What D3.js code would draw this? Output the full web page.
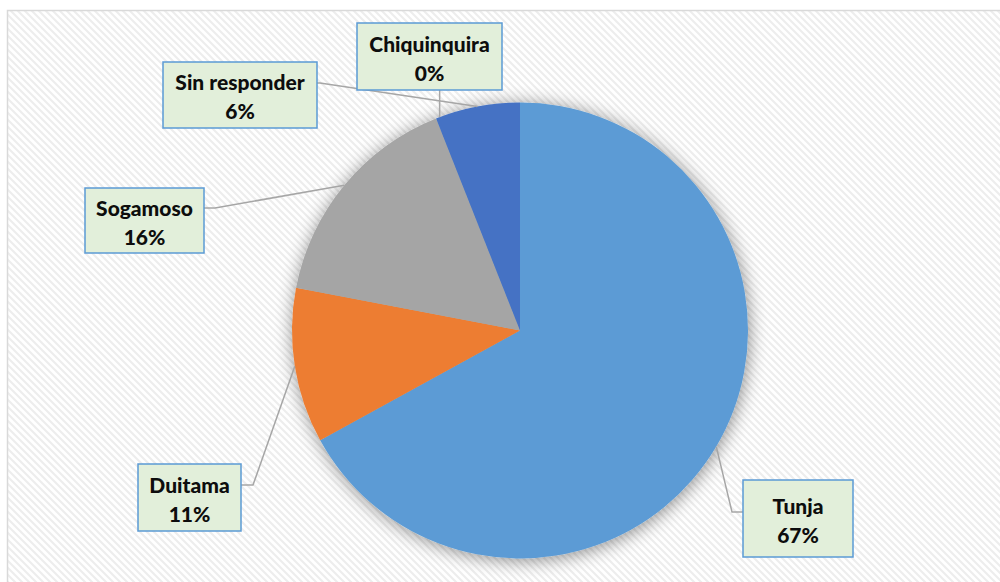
<!DOCTYPE html>
<html><head><meta charset="utf-8">
<script src="https://cdn.jsdelivr.net/npm/d3@7"></script>
<style>body{margin:0;background:#fff}svg{display:block}</style>
</head><body>
<svg id="c" width="1000" height="582"></svg>
<script>
const categories = ["Tunja", "Duitama", "Sogamoso", "Sin responder", "Chiquinquira"];
const values = [67, 11, 16, 6, 0];
const percentLabels = ["67%", "11%", "16%", "6%", "0%"];
const colors = ["#5b9bd5", "#ed7d31", "#a5a5a5", "#4472c4", "#ffc000"];

// label box layout (presentation only)
const layout = [
  {x:743, y:480, w:110, h:77, elbow:[732,512], side:"left"},
  {x:138, y:464, w:103, h:67, elbow:[253,485], side:"right"},
  {x:85,  y:188, w:119, h:65, elbow:[215,208], side:"right"},
  {x:163, y:62,  w:154, h:66, elbow:[320,83],  side:"right"},
  {x:357, y:23,  w:145, h:67, elbow:null, side:"bottom"}
];

const svg = d3.select("#c");
const defs = svg.append("defs");
const pat = defs.append("pattern").attr("id","hatch").attr("patternUnits","userSpaceOnUse")
  .attr("width",7).attr("height",7);
pat.append("rect").attr("width",7).attr("height",7).attr("fill","#ffffff");
pat.append("path").attr("d","M-1,-1 L8,8 M-1,6 L1,8 M6,-1 L8,1").attr("stroke","#ededed").attr("stroke-width",2);

const f = defs.append("filter").attr("id","sh").attr("x","-20%").attr("y","-20%").attr("width","140%").attr("height","140%");
f.append("feGaussianBlur").attr("in","SourceAlpha").attr("stdDeviation",9).attr("result","b");
f.append("feOffset").attr("in","b").attr("dx",1).attr("dy",2).attr("result","o");
f.append("feComponentTransfer").attr("in","o").attr("result","o2")
  .append("feFuncA").attr("type","linear").attr("slope",0.45);
const m = f.append("feMerge");
m.append("feMergeNode").attr("in","o2");
m.append("feMergeNode").attr("in","SourceGraphic");

svg.append("rect").attr("x",7.5).attr("y",10.5).attr("width",1000).attr("height",600)
  .attr("fill","url(#hatch)").attr("stroke","#d9d9d9").attr("stroke-width",1.5);

const cx = 520, cy = 330.5, R = 228;
const pie = d3.pie().value(d=>d).sort(null)(values);
const arc = d3.arc().innerRadius(0).outerRadius(R);
const g = svg.append("g").attr("transform",`translate(${cx},${cy})`);

g.append("g").attr("filter","url(#sh)").selectAll("path").data(pie).join("path")
  .attr("d",arc).attr("fill",(d,i)=>colors[i]);

// leader lines
const leaders = svg.append("g").attr("fill","none").attr("stroke","#a6a6a6").attr("stroke-width",1.5);
pie.forEach((d,i)=>{
  const L = layout[i];
  let a = (d.startAngle + d.endAngle)/2;
  if (i === 4) { // zero slice: leader drops vertically onto the pie edge
    const lx = L.x + L.w*0.57;
    const dx = lx - cx;
    const py = cy - Math.sqrt(R*R - dx*dx);
    leaders.append("path").attr("d",`M${lx},${L.y+L.h} L${lx},${py}`);
    return;
  }
  const px = cx + R*Math.sin(a), py = cy - R*Math.cos(a);
  const ex = L.elbow[0], ey = L.elbow[1];
  const bx = L.side==="left" ? L.x : L.x+L.w;
  leaders.append("path").attr("d",`M${px},${py} L${ex},${ey} L${bx},${ey}`);
});

// label boxes
const lg = svg.append("g");
categories.forEach((c,i)=>{
  const L = layout[i];
  lg.append("rect").attr("x",L.x).attr("y",L.y).attr("width",L.w).attr("height",L.h)
    .attr("fill","#e2efda").attr("stroke","#5b9bd5").attr("stroke-width",1.5);
  const t = lg.append("text").attr("text-anchor","middle")
    .attr("font-family","Lato, 'Open Sans', sans-serif").attr("font-weight","900")
    .attr("font-size",21).attr("fill","#0d0d0d");
  t.append("tspan").attr("x",L.x+L.w/2).attr("y",L.y+L.h/2-5).text(c);
  t.append("tspan").attr("x",L.x+L.w/2).attr("y",L.y+L.h/2+24).text(percentLabels[i]);
});
</script>
</body></html>
